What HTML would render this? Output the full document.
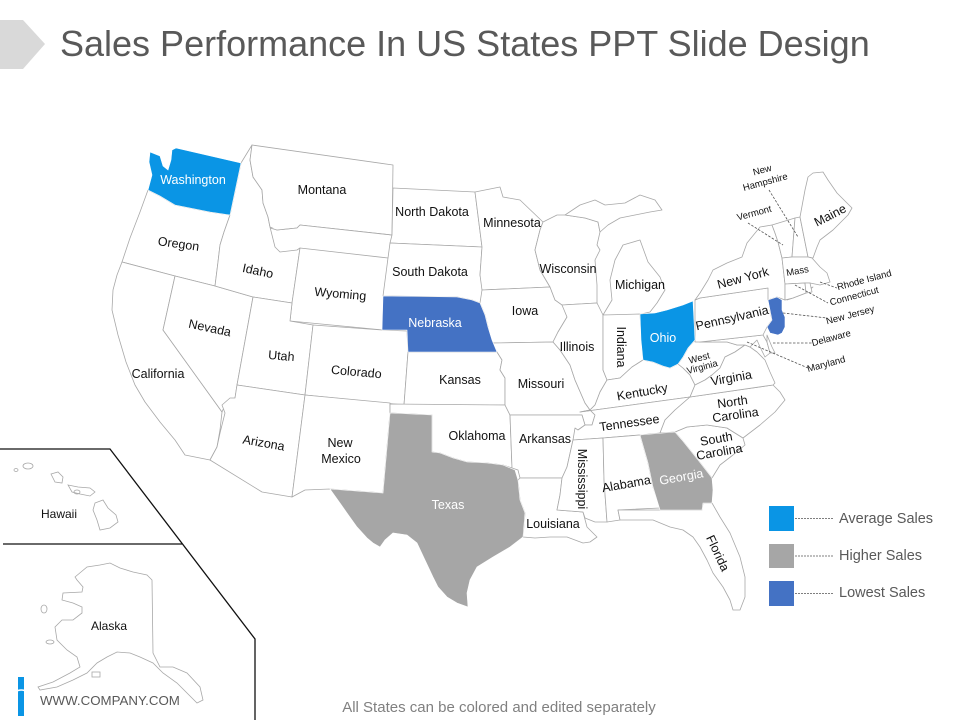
<!DOCTYPE html>
<html><head><meta charset="utf-8"><style>
html,body{margin:0;padding:0;background:#fff;}
svg{display:block;}
text{font-family:"Liberation Sans",Arial,sans-serif;}
.st{fill:#fff;stroke:#a8a8a8;stroke-width:0.8;stroke-linejoin:round;}
.lb{font-size:12.5px;fill:#111;text-anchor:middle;}
.wl{font-size:12.5px;fill:#fff;text-anchor:middle;}
.sm{font-size:9.5px;fill:#111;text-anchor:middle;}
.ld{stroke:#555;stroke-width:0.8;stroke-dasharray:2.5,1.5;fill:none;}
</style></head><body>
<svg width="960" height="720" viewBox="0 0 960 720" xmlns="http://www.w3.org/2000/svg">
<rect width="960" height="720" fill="#fff"/>
<polygon points="0,20 23,20 45,44 23,69 0,69" fill="#d9d9d9"/>
<text x="60" y="56" font-size="36" fill="#595959">Sales Performance In US States PPT Slide Design</text>

<!-- States -->
<polygon class="st" points="148,190 160,196 175,205 190,208 210,212 230,215 224,232 220,245 218,262 215,286 175,276 122,262 130,238 140,212"/>
<polygon class="st" points="122,262 175,276 163,330 217,405 222,412 220,430 217,447 210,460 185,455 175,440 160,422 145,402 135,385 126,362 118,335 112,310 113,290 117,275"/>
<polygon class="st" points="175,276 215,286 253,297 237,385 235,398 225,405 222,412 217,405 163,330"/>
<polygon class="st" points="241,163 252,145 250,160 253,177 262,190 263,203 268,217 270,227 275,247 280,252 297,250 300,248 292,303 253,297 215,286 218,262 220,245 224,232 230,215"/>
<polygon class="st" points="252,145 393,165 392,235 300,225 297,228 277,230 270,227 268,217 263,203 262,190 253,177 250,160"/>
<polygon class="st" points="300,248 388,258 383,330 290,321 292,303"/>
<polygon class="st" points="253,297 292,303 290,321 313,325 305,395 237,385"/>
<polygon class="st" points="313,325 382,330 407,331 408,352 404,405 305,395"/>
<polygon class="st" points="237,385 305,395 292,497 262,492 210,460 217,447 220,433 225,413 222,405 230,398 235,398"/>
<polygon class="st" points="305,395 390,403 390,413 383,493 330,489 305,490 292,497"/>
<polygon class="st" points="393,188 475,192 482,247 390,243 392,235"/>
<polygon class="st" points="390,243 482,247 480,275 483,290 480,303 472,300 457,297 383,296 388,258"/>
<polygon class="st" points="408,352 497,352 502,360 500,370 505,378 505,405 404,405"/>
<polygon class="st" points="390,404 505,405 510,415 512,468 503,465 487,463 467,462 453,458 440,453 432,452 432,415 390,413"/>
<polygon class="st" points="475,192 500,187 503,197 520,200 543,222 540,230 535,250 540,270 550,287 482,290 480,275 482,247"/>
<polygon class="st" points="482,290 550,287 555,300 562,303 567,317 558,332 553,342 492,343 488,327 485,315 480,303"/>
<polygon class="st" points="492,343 553,342 560,350 570,365 575,380 585,403 590,410 595,415 592,425 585,425 582,415 510,415 505,405 505,378 500,370 502,360 497,352"/>
<polygon class="st" points="510,415 582,415 585,425 578,430 573,440 567,467 562,478 520,478 518,470 512,468"/>
<polygon class="st" points="520,478 562,478 560,495 557,510 583,512 587,527 597,537 590,542 583,543 567,537 550,537 535,538 523,537 525,513 520,500 518,480"/>
<polygon class="st" points="543,222 557,215 565,215 585,218 598,222 600,232 597,245 600,250 595,260 597,285 597,303 562,305 555,300 550,287 540,270 535,250 540,230"/>
<polygon class="st" points="565,215 580,205 595,200 605,205 625,203 640,195 655,200 662,210 650,212 635,215 620,218 608,225 600,232 598,222 585,218"/>
<polygon class="st" points="603,315 612,300 610,280 615,260 623,245 640,240 648,262 660,277 665,290 657,303 650,312 637,315"/>
<polygon class="st" points="562,305 597,303 603,315 603,370 607,380 600,392 595,405 590,410 585,403 575,380 570,365 560,350 553,342 558,332 567,317"/>
<polygon class="st" points="603,315 640,314 643,360 632,367 620,378 607,380 603,370"/>
<polygon class="st" points="590,410 595,405 600,392 607,380 620,378 632,367 643,360 653,362 663,366 670,368 678,364 683,368 690,375 695,385 690,397 580,412"/>
<polygon class="st" points="580,412 690,397 675,410 665,420 660,433 640,435 603,438 573,440 575,428 578,430 585,425 592,425 595,415 590,410"/>
<polygon class="st" points="573,440 603,438 604,480 607,522 595,522 585,518 583,512 557,510 560,495 562,478 567,467"/>
<polygon class="st" points="603,438 640,435 648,463 653,487 660,508 618,510 620,520 607,522 604,480"/>
<polygon class="st" points="618,510 660,510 702,510 703,503 712,503 720,517 730,533 740,557 745,577 745,597 740,610 733,610 730,600 723,587 713,573 707,560 700,547 693,537 683,530 670,527 653,520 637,520 620,520"/>
<polygon class="st" points="675,432 687,427 707,425 727,428 743,438 745,445 733,455 720,465 712,478 698,460 682,440"/>
<polygon class="st" points="690,397 773,385 780,392 785,400 775,412 760,425 743,438 727,428 707,425 687,427 675,432 660,433 665,420 675,410"/>
<polygon class="st" points="695,340 700,342 727,342 737,345 745,345 735,352 725,357 720,368 712,375 705,380 695,385 690,375 683,368 678,364 683,357 688,348"/>
<polygon class="st" points="695,385 705,380 712,375 720,368 725,357 735,352 745,345 750,347 757,352 765,360 770,372 775,383 773,385 690,397"/>
<polygon class="st" points="700,342 763,335 767,342 770,353 765,357 760,347 757,340 750,347 745,345 737,345 727,342"/>
<polygon class="st" points="767,335 772,347 775,353 770,353 767,342"/>
<polygon class="st" points="695,300 700,298 768,288 770,300 770,310 772,320 767,327 763,335 700,342 695,342"/>
<polygon class="st" points="695,300 700,293 708,280 713,270 727,263 742,257 747,243 760,227 772,225 775,233 778,242 782,258 785,284 785,300 777,297 768,300 768,288 700,298"/>
<polygon class="st" points="787,300 800,293 813,287 806,293 793,298"/>
<polygon class="st" points="772,225 795,218 792,257 782,258 778,242 775,233"/>
<polygon class="st" points="795,218 800,217 808,257 792,257"/>
<polygon class="st" points="800,217 805,190 808,177 813,173 823,172 828,180 837,193 847,203 852,208 848,215 840,223 833,230 820,240 817,247 813,258 808,257"/>
<polygon class="st" points="782,258 792,257 808,257 812,258 820,267 827,273 830,282 820,285 810,283 805,283 785,284"/>
<polygon class="st" points="785,284 805,283 806,293 793,298 785,300"/>
<polygon class="st" points="805,283 810,283 812,292 806,293"/>
<polyline class="st" fill="none" points="270,228 277,230 297,228 300,225 392,235"/>

<!-- colored states -->
<polygon points="150,152 160,156 163,166 168,170 171,160 172,150 176,148 241,163 230,215 210,212 190,208 175,205 160,196 148,190 152,175 149,162" fill="#0a95e5" stroke="#fff" stroke-width="0.6"/>
<polygon points="383,296 457,297 472,300 480,303 485,315 488,327 492,340 497,352 408,352 407,330 382,330" fill="#4472c4" stroke="#fff" stroke-width="0.6"/>
<polygon points="640,314 655,313 667,310 683,305 693,301 695,340 688,348 683,357 678,364 670,368 663,366 653,362 643,360 641,340" fill="#0a95e5" stroke="#fff" stroke-width="0.6"/>
<polygon points="768,300 777,297 782,300 782,310 785,317 785,327 782,333 778,335 770,333 767,327 772,320 770,310" fill="#4472c4" stroke="#fff" stroke-width="0.6"/>
<polygon points="390,413 432,415 432,452 440,453 453,458 467,462 487,463 503,465 515,470 518,480 520,500 525,513 523,537 510,547 493,557 477,567 470,580 467,593 468,607 457,603 447,597 438,587 433,577 425,560 417,543 407,535 393,533 385,540 380,547 373,543 367,538 357,527 347,513 340,503 330,489 383,493" fill="#a6a6a6" stroke="#fff" stroke-width="0.6"/>
<polygon points="640,435 675,432 682,440 698,460 712,478 713,490 712,503 703,503 702,510 660,510 653,487 648,463" fill="#a6a6a6" stroke="#fff" stroke-width="0.6"/>

<!-- leader lines -->
<line class="ld" x1="769" y1="190" x2="798" y2="237"/>
<line class="ld" x1="748" y1="223" x2="783" y2="245"/>
<line class="ld" x1="820" y1="282" x2="837" y2="288"/>
<line class="ld" x1="795" y1="285" x2="828" y2="303"/>
<line class="ld" x1="783" y1="313" x2="827" y2="318"/>
<line class="ld" x1="773" y1="343" x2="812" y2="343"/>
<line class="ld" x1="747" y1="342" x2="808" y2="368"/>

<!-- labels -->
<text class="wl" x="193" y="184">Washington</text>
<text class="lb" x="322" y="194">Montana</text>
<text class="lb" x="432" y="216">North Dakota</text>
<text class="lb" x="512" y="227">Minnesota</text>
<text class="lb" transform="translate(178,248) rotate(8)">Oregon</text>
<text class="lb" transform="translate(257,275) rotate(12)">Idaho</text>
<text class="lb" x="430" y="276">South Dakota</text>
<text class="lb" transform="translate(340,298) rotate(5)">Wyoming</text>
<text class="wl" x="435" y="327">Nebraska</text>
<text class="lb" transform="translate(209,332) rotate(12)">Nevada</text>
<text class="lb" transform="translate(281,360) rotate(5)">Utah</text>
<text class="lb" transform="translate(356,376) rotate(5)">Colorado</text>
<text class="lb" x="158" y="378">California</text>
<text class="lb" x="460" y="384">Kansas</text>
<text class="lb" x="568" y="273">Wisconsin</text>
<text class="lb" x="640" y="289">Michigan</text>
<text class="lb" x="525" y="315">Iowa</text>
<text class="lb" x="577" y="351">Illinois</text>
<text class="lb" transform="translate(617,347) rotate(90)">Indiana</text>
<text class="wl" x="663" y="342">Ohio</text>
<text class="lb" x="541" y="388">Missouri</text>
<text class="lb" transform="translate(643,396) rotate(-10)">Kentucky</text>
<text class="sm" transform="translate(700,361) rotate(-15)">West</text>
<text class="sm" transform="translate(703,370) rotate(-15)">Virginia</text>
<text class="lb" transform="translate(732,382) rotate(-10)">Virginia</text>
<text class="lb" transform="translate(630,427) rotate(-8)">Tennessee</text>
<text class="lb" transform="translate(733,406) rotate(-8)">North</text>
<text class="lb" transform="translate(736,419) rotate(-8)">Carolina</text>
<text class="lb" transform="translate(717,443) rotate(-10)">South</text>
<text class="lb" transform="translate(720,456) rotate(-10)">Carolina</text>
<text class="wl" transform="translate(682,481) rotate(-10)">Georgia</text>
<text class="lb" transform="translate(627,488) rotate(-10)">Alabama</text>
<text class="lb" transform="translate(578,479) rotate(90)">Mississippi</text>
<text class="lb" x="553" y="528">Louisiana</text>
<text class="lb" x="545" y="443">Arkansas</text>
<text class="lb" x="477" y="440">Oklahoma</text>
<text class="wl" x="448" y="509">Texas</text>
<text class="lb" x="340" y="447">New</text>
<text class="lb" x="341" y="463">Mexico</text>
<text class="lb" transform="translate(263,447) rotate(10)">Arizona</text>
<text class="lb" transform="translate(714,555) rotate(65)">Florida</text>
<text class="lb" transform="translate(832,219) rotate(-27)">Maine</text>
<text class="lb" font-size="14" transform="translate(744,282) rotate(-15)">New York</text>
<text class="lb" font-size="13" transform="translate(733,322) rotate(-13)">Pennsylvania</text>
<text class="sm" transform="translate(763,173) rotate(-15)">New</text>
<text class="sm" transform="translate(766,185) rotate(-15)">Hampshire</text>
<text class="sm" transform="translate(755,216) rotate(-15)">Vermont</text>
<text class="sm" transform="translate(798,274) rotate(-10)">Mass</text>
<text class="sm" transform="translate(865,283) rotate(-15)">Rhode Island</text>
<text class="sm" transform="translate(855,299) rotate(-15)">Connecticut</text>
<text class="sm" transform="translate(851,318) rotate(-15)">New Jersey</text>
<text class="sm" transform="translate(832,341) rotate(-15)">Delaware</text>
<text class="sm" transform="translate(827,367) rotate(-15)">Maryland</text>

<!-- Inset lines -->
<polyline points="0,449 110,449 255,639 255,720" fill="none" stroke="#111" stroke-width="1.3"/>
<line x1="3" y1="544" x2="182" y2="544" stroke="#111" stroke-width="1.3"/>

<!-- Hawaii -->
<g fill="none" stroke="#a8a8a8" stroke-width="0.8">
<ellipse cx="16" cy="470" rx="2" ry="1.5"/>
<ellipse cx="28" cy="466" rx="5" ry="3"/>
<polygon points="51,474 58,472 63,477 62,483 55,482"/>
<polygon points="68,485 78,487 90,488 95,492 90,496 80,494 72,492"/>
<ellipse cx="77" cy="492" rx="3" ry="2"/>
<polygon points="95,503 103,500 108,508 116,515 118,522 110,528 100,530 97,520 93,510"/>
</g>
<text x="59" y="518" font-size="12" fill="#111" text-anchor="middle">Hawaii</text>

<!-- Alaska -->
<polygon fill="none" stroke="#a8a8a8" stroke-width="0.8" points="75,577 87,567 100,565 110,563 120,568 133,572 147,575 152,580 153,653 160,667 173,667 187,673 200,687 203,700 197,703 187,693 177,683 163,673 153,663 140,657 130,653 117,652 107,657 97,663 87,673 73,680 57,687 40,690 38,687 53,682 70,673 80,667 77,657 67,650 57,640 55,627 62,620 73,620 82,613 82,607 73,603 62,600 63,593 82,592 83,587 77,580"/>
<g fill="none" stroke="#a8a8a8" stroke-width="0.8">
<ellipse cx="44" cy="609" rx="3" ry="4"/>
<ellipse cx="50" cy="642" rx="4" ry="2"/>
<rect x="92" y="672" width="8" height="5"/>
</g>
<text x="109" y="630" font-size="12" fill="#111" text-anchor="middle">Alaska</text>

<!-- company -->
<rect x="18" y="677" width="6" height="39" fill="#0a95e5"/>
<path d="M15,692 Q21,688 28,692" stroke="#fff" stroke-width="1.5" fill="none"/>
<text x="40" y="705" font-size="13.3" fill="#595959">WWW.COMPANY.COM</text>

<!-- Legend -->
<rect x="769" y="506" width="25" height="25" fill="#0a95e5"/>
<rect x="769" y="544" width="25" height="24" fill="#a6a6a6"/>
<rect x="769" y="581" width="25" height="25" fill="#4472c4"/>
<line x1="795" y1="518.5" x2="833" y2="518.5" stroke="#555" stroke-width="0.8" stroke-dasharray="2,1"/>
<line x1="795" y1="556" x2="833" y2="556" stroke="#555" stroke-width="0.8" stroke-dasharray="2,1"/>
<line x1="795" y1="593.5" x2="833" y2="593.5" stroke="#555" stroke-width="0.8" stroke-dasharray="2,1"/>
<text x="839" y="523" font-size="14.5" fill="#595959">Average Sales</text>
<text x="839" y="560" font-size="14.5" fill="#595959">Higher Sales</text>
<text x="839" y="597" font-size="14.5" fill="#595959">Lowest Sales</text>

<text x="499" y="712" font-size="15" fill="#808080" text-anchor="middle">All States can be colored and edited separately</text>
</svg>
</body></html>
